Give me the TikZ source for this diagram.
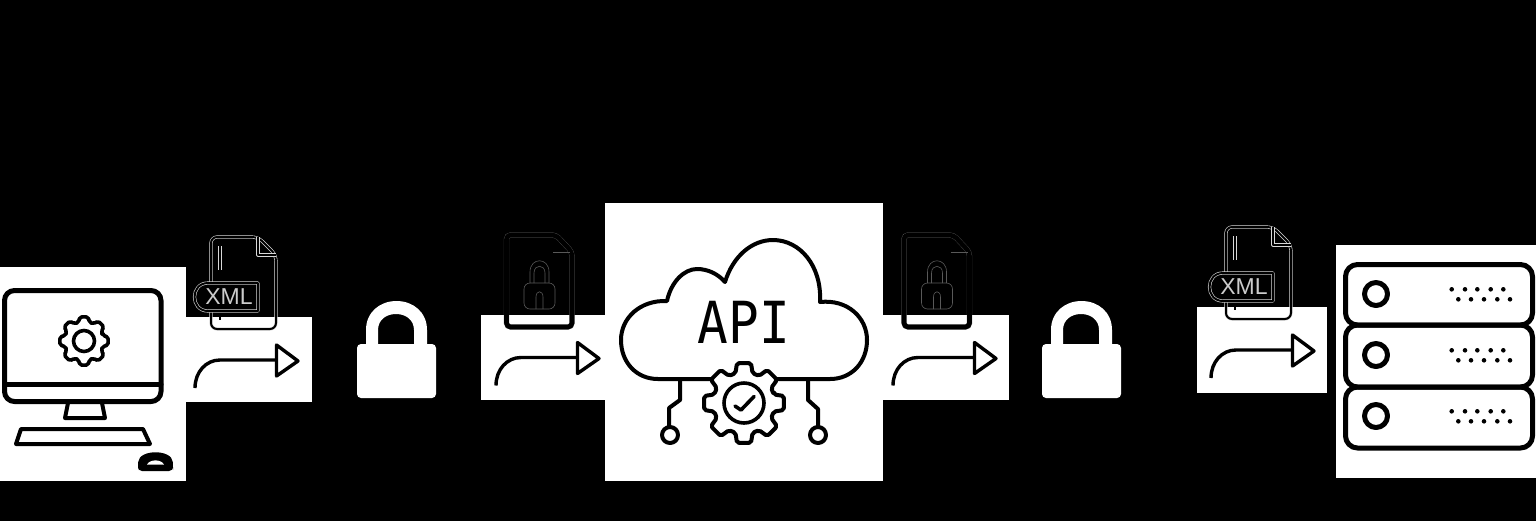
\documentclass[tikz,border=0pt]{standalone}
\usepackage{fontspec}
\newfontfamily\monolabel[FakeStretch=0.88]{DejaVu Sans Mono}
\setsansfont{Liberation Sans}
\newcommand{\cogwheel}[2]{
    \foreach \k in {0,45,...,315} {
        -- ({\k-16}:#2) -- ({\k-10}:#1) -- ({\k+10}:#1) -- ({\k+16}:#2)
    } -- cycle
}
\begin{document}
\begin{tikzpicture}[x=0.5pt, y=-0.5pt]
    \tikzstyle{panel}=[fill=white, draw=none]
    \tikzstyle{iconline}=[draw=black, line width=2pt, line join=round, line cap=round]
    \tikzstyle{halo}=[draw=white!85!black, line width=1.6pt, line join=round]
    \tikzstyle{core}=[draw=black, line width=1pt, line join=round]
    \tikzstyle{hairline}=[draw=black!65!white, line width=0.3pt]
    \tikzstyle{padlock}=[fill=white, draw=none]
    \fill[black] (0,0) rectangle (1536,521);
    \useasboundingbox (0,0) rectangle (1536,521);

    \fill[panel] (0,267) rectangle (186,481);
    \fill[panel] (186,317) rectangle (312,402);
    \fill[panel] (481,315) rectangle (605,400);
    \fill[panel] (605,203) rectangle (883,481);
    \fill[panel] (883,315) rectangle (1009,400);
    \fill[panel] (1197,307) rectangle (1327,393);
    \fill[panel] (1336,245) rectangle (1536,478);

    % computer
    \draw[iconline, line width=2.5pt, rounded corners=5pt] (4.5,290.5) rectangle (161,401.5);
    \draw[iconline, line width=2.5pt] (4.5,384) -- (161,384);
    \draw[iconline] (68,403) -- (65,418) -- (105,418) -- (102,403);
    \draw[iconline] (21,429) -- (143,429) -- (150,444) -- (16,444) -- cycle;
    \fill[black, rounded corners=2pt] (138,471) -- (138,466) .. controls (139,449) and (172,449) .. (173,466) -- (173,471) -- cycle;
    \fill[white] (147,464.5) .. controls (150,459) and (161,459) .. (164,464.5) -- cycle;
    \begin{scope}[shift={(84,341)}]
        \draw[iconline, line width=1.8pt, rounded corners=1pt] (-16:19.5) \cogwheel{24.5}{19.5};
        \draw[iconline, line width=1.8pt] (0,0) circle[radius=10.5];
    \end{scope}

    % bent arrows
    \foreach \dx/\dy in {0/0, 301/-2.5, 698/-2.5, 1016/-10} {
        \begin{scope}[shift={(\dx,\dy)}]
            \draw[iconline, line width=1.7pt, line cap=butt] (195,388) .. controls (195,372) and (206,360) .. (220,360) -- (277,360);
            \draw[iconline, line width=1.7pt, fill=white, line cap=butt, miter limit=10] (276.5,345) -- (298,361) -- (276.5,376) -- cycle;
        \end{scope}
    }

    % xml files
    \foreach \dx/\dy/\nm in {0/0/xmlone, 1015/-10/xmltwo} {
        \begin{scope}[shift={(\dx,\dy)}]
            \path[halo, rounded corners=3pt] (211,237) -- (258,237) -- (276,255) -- (276,329) -- (211,329) -- cycle;
            \path[core, rounded corners=3pt] (211,237) -- (258,237) -- (276,255) -- (276,329) -- (211,329) -- cycle;
            \path[halo] (258,237) -- (258,255) -- (276,255);
            \path[core] (258,237) -- (258,255) -- (276,255);
            \draw[white!85!black, line width=0.5pt] (218.5,246) -- (218.5,270) (221.5,246) -- (221.5,270);
            \draw[black, line width=0.8pt] (220,312) -- (220,320);
            \path[halo, fill=black] (258,283) -- (208,283) .. controls (190,283) and (190,311) .. (208,311) -- (258,311) -- cycle;
            \path[core] (258,283) -- (208,283) .. controls (190,283) and (190,311) .. (208,311) -- (258,311) -- cycle;
            \node[text=white!80!black, font=\sffamily\fontsize{11.5pt}{11.5pt}\selectfont, inner sep=0pt] (\nm) at (229,297) {XML};
        \end{scope}
    }

    % locked files
    \foreach \dx in {0,397.5} {
        \begin{scope}[shift={(\dx,0)}]
            \draw[hairline, line width=2.6pt, rounded corners=2pt] (506.5,235) -- (556,235) -- (572,252) -- (572,327) -- (506.5,327) -- cycle;
            \draw[iconline, line width=2.3pt, rounded corners=2pt] (506.5,235) -- (556,235) -- (572,252) -- (572,327) -- (506.5,327) -- cycle;
            \draw[hairline] (553,252) -- (570,252);
            \draw[hairline, rounded corners=3pt] (524,283) rectangle (555,309);
            \draw[hairline] (530,283) -- (530,272) .. controls (530,257) and (549,257) .. (549,272) -- (549,283);
            \draw[hairline] (534,283) -- (534,273) .. controls (534,264) and (545,264) .. (545,273) -- (545,283);
            \draw[hairline] (536,309) -- (536,297) .. controls (536,290) and (543,290) .. (543,297) -- (543,309);
        \end{scope}
    }

    % padlocks
    \foreach \dx in {0,685} {
        \begin{scope}[shift={(\dx,0)}]
            \fill[padlock, rounded corners=2pt] (357,344) rectangle (436,398);
            \fill[padlock, even odd rule] (366,346) -- (366,330) .. controls (366,312) and (380,301) .. (396.5,301) .. controls (413,301) and (427,312) .. (427,330) -- (427,346)
                -- (414,346) -- (414,330) .. controls (414,320) and (406,314) .. (396,314) .. controls (386,314) and (378,320) .. (378,330) -- (378,346) -- cycle;
        \end{scope}
    }

    % cloud
    \draw[iconline] (658,379) .. controls (636,379) and (621,362) .. (621,340) .. controls (621,318) and (640,300) .. (667,301)
        .. controls (671,282) and (684,269) .. (697,269) .. controls (708,269) and (718,274) .. (725,282)
        .. controls (733,256) and (752,240) .. (773,240) .. controls (800,240) and (822,266) .. (820,302)
        .. controls (848,299) and (867,318) .. (867,340) .. controls (867,362) and (852,379) .. (830,379) -- (658,379);
    \node[font=\monolabel\fontsize{29pt}{29pt}\selectfont, inner sep=0pt] (apilabel) at (744,322) {API};
    \draw[iconline] (680,380) -- (680,400) -- (669,408) -- (669,427);
    \draw[iconline] (808,380) -- (808,400) -- (818,409) -- (818,427);
    \draw[iconline] (670,435) circle[radius=8];
    \draw[iconline] (818,435) circle[radius=8];
    \begin{scope}[shift={(744,403)}]
        \fill[white] (0,0) circle[radius=34];
        \draw[iconline, fill=white, rounded corners=1pt] (-16:31) \cogwheel{40.5}{31};
        \draw[iconline, line width=1.8pt] (0,0) circle[radius=20];
        \draw[iconline, line width=1.8pt] (-9,3) -- (-3,7) -- (10,-6.5);
    \end{scope}

    % servers
    \foreach \top/\bot/\cy in {264.5/325/294, 325/387/355, 387/448/416} {
        \draw[iconline, line width=2.5pt, rounded corners=6pt] (1345.5,\top) rectangle (1532.5,\bot);
        \draw[iconline, line width=2.5pt] (1376,\cy) circle[radius=11.5];
        \foreach \px in {1451.7,1465,1477.3,1490.7,1503.3} {
            \fill[black] (\px,\cy-4.7) circle[radius=2.3];
        }
        \foreach \px in {1458.3,1471,1484,1497.3,1510} {
            \fill[black] (\px,\cy+5.3) circle[radius=2.3];
        }
    }
\end{tikzpicture}
\end{document}
